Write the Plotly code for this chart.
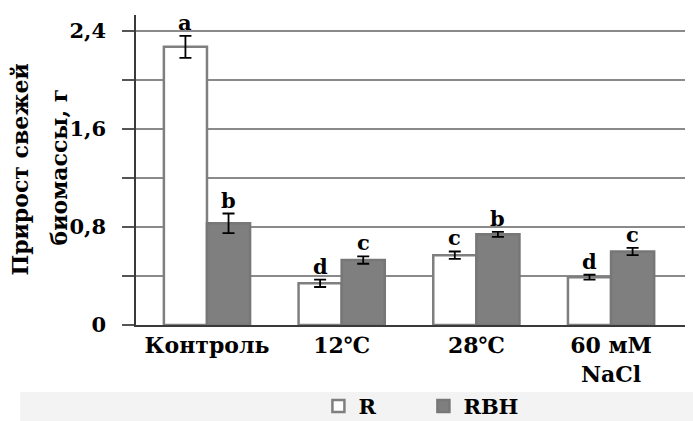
import plotly.graph_objects as go

categories = ["Контроль", "12℃", "28℃", "60 мМ<br>NaCl"]
r_values = [2.27, 0.34, 0.57, 0.39]
r_errors = [0.09, 0.03, 0.03, 0.02]
rbh_values = [0.83, 0.53, 0.74, 0.60]
rbh_errors = [0.08, 0.03, 0.02, 0.03]
r_letters = ["a", "d", "c", "d"]
rbh_letters = ["b", "c", "b", "c"]
tick_vals = [0, 0.4, 0.8, 1.2, 1.6, 2.0, 2.4]
tick_text = ["0", "", "0,8", "", "1,6", "", "2,4"]

FONT = "DejaVu Serif"
fnt = dict(family=FONT, size=21, color="black")

fig = go.Figure()
fig.add_trace(go.Bar(
    name="<b>R</b>", x=categories, y=r_values,
    marker=dict(color="white", line=dict(color="#7f7f7f", width=2.5)),
    error_y=dict(type="data", array=r_errors, color="black", thickness=1.8, width=6),
))
fig.add_trace(go.Bar(
    name="<b>RBH</b>", x=categories, y=rbh_values,
    marker=dict(color="#7f7f7f", line=dict(color="#777777", width=2.5)),
    error_y=dict(type="data", array=rbh_errors, color="black", thickness=1.8, width=6),
))

annotations = []
for cat, v, e, t in zip(categories, r_values, r_errors, r_letters):
    annotations.append(dict(x=cat, y=v + e, text="<b>%s</b>" % t, showarrow=False,
                            xshift=-21.5, yanchor="bottom", yshift=-1, font=fnt))
for cat, v, e, t in zip(categories, rbh_values, rbh_errors, rbh_letters):
    annotations.append(dict(x=cat, y=v + e, text="<b>%s</b>" % t, showarrow=False,
                            xshift=21.5, yanchor="bottom", yshift=-1, font=fnt))

title_font = dict(family=FONT, size=22, color="black")
annotations.append(dict(xref="paper", yref="paper", x=-0.212, y=0.50,
                        text="<b>Прирост свежей</b>", textangle=-90, showarrow=False,
                        xanchor="center", yanchor="middle", font=title_font))
annotations.append(dict(xref="paper", yref="paper", x=-0.141, y=0.51,
                        text="<b>биомассы, г</b>", textangle=-90, showarrow=False,
                        xanchor="center", yanchor="middle", font=title_font))

fig.update_layout(
    width=693, height=421,
    margin=dict(l=136, r=8, t=15, b=96, autoexpand=False),
    paper_bgcolor="white", plot_bgcolor="white",
    barmode="group", bargap=0.36, bargroupgap=0,
    font=fnt,
    showlegend=True,
    legend=dict(orientation="h", xref="container", yref="container",
                x=0.611, y=0.035, xanchor="center", yanchor="middle",
                font=dict(family=FONT, size=21, color="black"),
                bgcolor="rgba(0,0,0,0)", itemwidth=30, entrywidth=60),
    annotations=annotations,
    shapes=[dict(type="rect", xref="paper", yref="paper", x0=-0.211, x1=1.02,
                 y0=-0.216, y1=-0.32, fillcolor="#f3f3f3", line=dict(width=0),
                 layer="below")],
)
fig.update_xaxes(
    type="category", range=[-0.527, 3.549], automargin=False,
    showline=True, linecolor="#3a3a3a", linewidth=1.5,
    ticks="", tickfont=dict(family=FONT, size=22, color="black"),
    tickprefix="<b>", ticksuffix="</b>",
    showgrid=False,
)
fig.update_yaxes(
    range=[0, 2.53], tickvals=tick_vals, ticktext=["<b>%s</b>" % t if t else "" for t in tick_text],
    automargin=False,
    showline=True, linecolor="#3a3a3a", linewidth=1.5,
    ticks="outside", ticklen=12, tickcolor="#555555", tickwidth=1.5,
    ticklabelstandoff=12,
    showgrid=True, gridcolor="#8a8a8a", gridwidth=2,
    zeroline=False,
    tickfont=dict(family=FONT, size=21, color="black"),
)

fig.write_html("out.html")
